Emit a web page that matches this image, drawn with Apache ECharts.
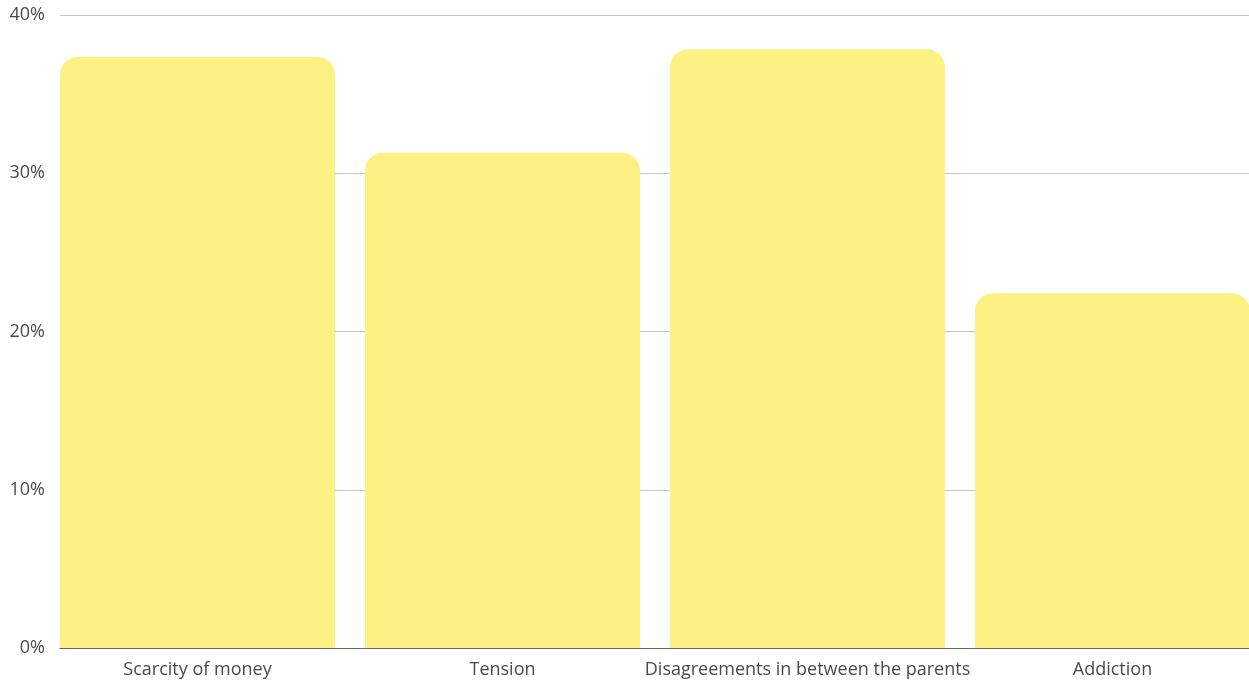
<!DOCTYPE html>
<html>
<head>
<meta charset="utf-8">
<script src="https://cdn.jsdelivr.net/npm/echarts@6/dist/echarts.min.js"></script>
<style>
html,body{margin:0;padding:0;background:#fff;overflow:hidden;width:1249px;height:682px;}
#chart{width:1280px;height:682px;}
</style>
</head>
<body>
<div id="chart"></div>
<script>
var categories = ["Scarcity of money", "Tension", "Disagreements in between the parents", "Addiction"];
var values = [37.35, 31.3, 37.83, 22.42];
var spacer = [0, 0, 0, 0];
var yTicks = [0, 10, 20, 30, 40];

var chart = echarts.init(document.getElementById('chart'));
chart.setOption({
  animation: false,
  grid: { left: 60, right: 0, top: 15, bottom: 34, containLabel: false },
  xAxis: {
    type: 'category',
    data: categories,
    axisLine: { show: true, lineStyle: { color: '#666', width: 1 } },
    axisTick: { show: false },
    axisLabel: { color: '#4a4a4a', fontFamily: 'Open Sans', fontSize: 18, fontWeight: 'normal', margin: 13, interval: 0, padding: [0, 30, 0, 0] }
  },
  yAxis: {
    type: 'value',
    min: yTicks[0],
    max: yTicks[yTicks.length - 1],
    interval: 10,
    axisLine: { show: false },
    axisTick: { show: false },
    splitLine: { lineStyle: { color: '#c4c4c4', width: 1 } },
    axisLabel: { color: '#4a4a4a', fontFamily: 'Open Sans', fontSize: 18, fontWeight: 'normal', margin: 15, padding: [4, 0, 0, 0], formatter: '{value}%' }
  },
  series: [{
    type: 'bar',
    data: values,
    barWidth: 275,
    barGap: 0,
    itemStyle: { color: '#fdf183', borderRadius: [18, 18, 0, 0] }
  }, {
    type: 'bar',
    data: spacer,
    barWidth: 30,
    barGap: 0,
    silent: true,
    itemStyle: { color: 'rgba(0,0,0,0)' }
  }]
});
</script>
</body>
</html>
